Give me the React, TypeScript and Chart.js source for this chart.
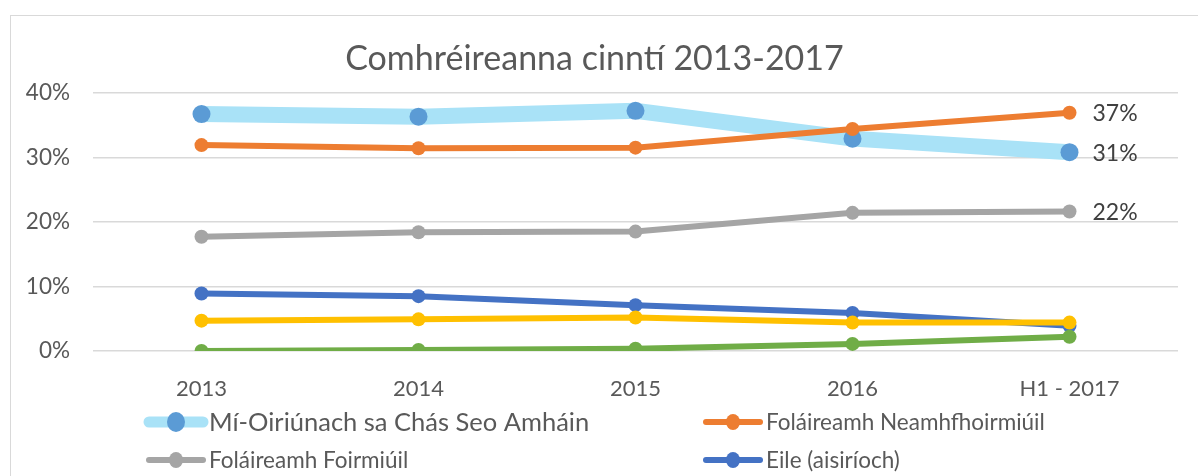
import React, { useEffect, useRef } from 'react';
import { Chart, registerables } from 'chart.js';

Chart.register(...registerables);

// ---- data ----
const categories = ['2013', '2014', '2015', '2016', 'H1 - 2017'];
const seriesNames = [
  'Mí-Oiriúnach sa Chás Seo Amháin',
  'Foláireamh Neamhfhoirmiúil',
  'Foláireamh Foirmiúil',
  'Eile (aisiríoch)',
  'Sraith 5',
  'Sraith 6',
];
const unsuitableValues = [36.7, 36.3, 37.2, 32.9, 30.8];
const informalValues = [31.9, 31.4, 31.5, 34.4, 36.9];
const formalValues = [17.7, 18.4, 18.5, 21.4, 21.6];
const otherValues = [8.9, 8.5, 7.1, 5.9, 3.9];
const series5Values = [4.7, 4.9, 5.2, 4.4, 4.4];
const series6Values = [0.0, 0.15, 0.35, 1.1, 2.2];
const yTickValues = [0, 10, 20, 30, 40];
const titleText = 'Comhréireanna cinntí 2013-2017';

// ---- styles ----
const FONT = 'Lato';
const TEXT = '#595959';
const lineColors = ['#A9E2F7', '#ED7D31', '#A5A5A5', '#4472C4', '#FFC000', '#70AD47'];
const pointColors = ['#5B9BD5', '#ED7D31', '#A5A5A5', '#4472C4', '#FFC000', '#70AD47'];
const lineWidths = [16, 6, 6, 6, 6, 6];
const pointRadii = [9, 7, 7, 7, 7, 7];
const endLabelFlags = [true, true, true, false, false, false];
const legendFontSizes = [25.5, 22.5, 22.5, 22.5, 22.5, 22.5];

const endLabelPlugin = {
  id: 'endLabels',
  afterDatasetsDraw(chart: any) {
    const ctx = chart.ctx;
    ctx.save();
    ctx.font = `23px ${FONT}`;
    ctx.fillStyle = '#404040';
    ctx.textAlign = 'left';
    ctx.textBaseline = 'middle';
    chart.data.datasets.forEach((ds: any, i: number) => {
      if (!ds.endLabel) return;
      const meta = chart.getDatasetMeta(i);
      const last = meta.data[meta.data.length - 1];
      const v = ds.data[ds.data.length - 1];
      ctx.fillText(`${Math.round(v)}%`, last.x + 23, last.y + 1);
    });
    ctx.restore();
  },
};

const legendPlugin = {
  id: 'customLegend',
  afterDraw(chart: any) {
    const ctx = chart.ctx;
    const colX = [134, 691];
    const rowY = [406, 444, 482];
    ctx.save();
    chart.data.datasets.forEach((ds: any, i: number) => {
      const x = colX[i % 2];
      const y = rowY[Math.floor(i / 2)];
      ctx.strokeStyle = ds.borderColor;
      ctx.lineWidth = Math.min(ds.borderWidth, 11);
      ctx.lineCap = 'round';
      ctx.beginPath();
      ctx.moveTo(x + 4, y);
      ctx.lineTo(x + 58, y);
      ctx.stroke();
      ctx.fillStyle = ds.pointBackgroundColor;
      ctx.beginPath();
      ctx.ellipse(x + 31, y, ds.pointRadius, ds.pointRadius + 1, 0, 0, Math.PI * 2);
      ctx.fill();
      ctx.fillStyle = TEXT;
      ctx.font = `${ds.legendFontSize}px ${FONT}`;
      ctx.textAlign = 'left';
      ctx.textBaseline = 'middle';
      ctx.fillText(ds.label, x + 64, y + 1);
    });
    ctx.restore();
  },
};

export default function App() {
  const canvasRef = useRef<HTMLCanvasElement | null>(null);

  useEffect(() => {
    let chart: Chart | null = null;
    let cancelled = false;
    const valueSets = [unsuitableValues, informalValues, formalValues, otherValues, series5Values, series6Values];

    const build = () => {
      if (cancelled || !canvasRef.current) return;
      Chart.defaults.font.family = FONT;
      chart = new Chart(canvasRef.current, {
        type: 'line',
        data: {
          labels: categories,
          datasets: valueSets.map((vals, i) => ({
            label: seriesNames[i],
            data: vals,
            borderColor: lineColors[i],
            backgroundColor: pointColors[i],
            pointBackgroundColor: pointColors[i],
            pointBorderColor: pointColors[i],
            pointBorderWidth: 0,
            pointRadius: pointRadii[i],
            borderWidth: lineWidths[i],
            tension: 0,
            fill: false,
            order: valueSets.length - i,
            endLabel: endLabelFlags[i],
            legendFontSize: legendFontSizes[i],
          })) as any,
        },
        options: {
          animation: false,
          responsive: false,
          maintainAspectRatio: false,
          layout: { padding: { left: 0, right: 20, top: 0, bottom: 80 } },
          plugins: {
            legend: { display: false },
            tooltip: { enabled: false },
            title: {
              display: true,
              text: titleText,
              color: TEXT,
              font: { size: 34, weight: 'normal', family: FONT },
              padding: { top: 23, bottom: 13 },
            },
          },
          scales: {
            x: {
              type: 'category',
              offset: true,
              grid: { display: false },
              border: { display: false },
              ticks: { color: TEXT, font: { size: 22 }, padding: 17, maxRotation: 0, autoSkip: false },
              afterFit: (scale: any) => { scale.height = 45; },
            },
            y: {
              min: 0,
              max: 40,
              afterBuildTicks: (scale: any) => { scale.ticks = yTickValues.map((v) => ({ value: v })); },
              grid: { color: '#D9D9D9', lineWidth: 1.5, drawTicks: false },
              border: { display: false },
              ticks: { color: TEXT, font: { size: 22.5 }, padding: 23, callback: (v: any) => `${v}%` },
              afterFit: (scale: any) => { scale.width = 82; },
            },
          },
        },
        plugins: [endLabelPlugin, legendPlugin],
      });
    };

    const fontsReady = (document as any).fonts?.load
      ? Promise.all([
          (document as any).fonts.load(`20px ${FONT}`),
          (document as any).fonts.load(`20px ${FONT}`, 'Míéú'),
        ]).catch(() => null)
      : Promise.resolve(null);
    fontsReady.then(build);

    return () => {
      cancelled = true;
      if (chart) chart.destroy();
    };
  }, []);

  return (
    <div style={{ position: 'fixed', left: 0, top: 0, width: 1198, height: 476, overflow: 'hidden', background: '#fff' }}>
      <div
        style={{
          position: 'absolute',
          left: 10,
          top: 15,
          width: 1300,
          height: 600,
          borderLeft: '1px solid #D9D9D9',
          borderTop: '1px solid #D9D9D9',
          background: '#fff',
        }}
      >
        <canvas ref={canvasRef} width={1187} height={460} style={{ position: 'absolute', left: 0, top: 0, width: 1187, height: 460 }} />
      </div>
    </div>
  );
}
